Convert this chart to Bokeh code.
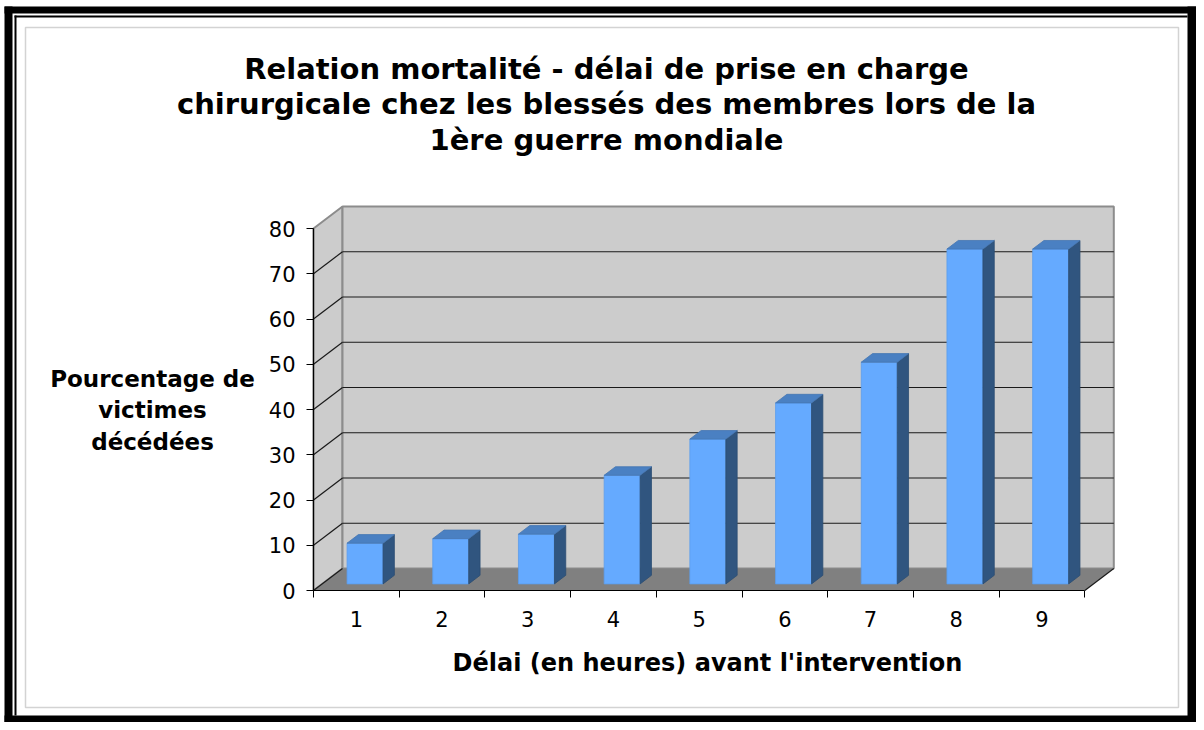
from bokeh.plotting import figure
from bokeh.models import Range1d, FixedTicker, Label, BoxAnnotation
from bokeh.embed import file_html
from bokeh.resources import INLINE

# ---------------- data ----------------
categories = ["1", "2", "3", "4", "5", "6", "7", "8", "9"]
mortality = [9, 10, 11, 24, 32, 40, 49, 74, 74]
y_ticks = [0, 10, 20, 30, 40, 50, 60, 70, 80]
title_text = ("Relation mortalité - délai de prise en charge\n"
              "chirurgicale chez les blessés des membres lors de la\n"
              "1ère guerre mondiale")
x_title = "Délai (en heures) avant l'intervention"
y_title = "Pourcentage de\nvictimes\ndécédées"

# ---------------- layout ----------------
W, H = 1196, 722
AX_X, AX_Y = 313, 590     # pixel position of the front axes origin
PX_X = 85.7               # pixels per category
PX_Y = 4.525              # pixels per percent
FONT = "DejaVu Sans"

n = len(categories)
x0, x1 = 0.5, n + 0.5
ymax = y_ticks[-1]

def dx(px):   # canvas pixel -> data x
    return x0 + (px - AX_X) / PX_X

def dy(py):   # canvas pixel -> data y
    return (AX_Y - py) / PX_Y

DX = 29 / PX_X   # 3D depth, x
DY = 22 / PX_Y   # 3D depth, y

p = figure(width=W, height=H, output_backend="svg", toolbar_location=None,
           x_range=Range1d(dx(0), dx(W)), y_range=Range1d(dy(H), dy(0)),
           min_border=0)
p.grid.visible = False
p.outline_line_color = None
p.background_fill_color = "white"
p.border_fill_color = "white"

# ---------------- walls ----------------
p.patch([x0, x0 + DX, x0 + DX, x0], [0, DY, ymax + DY, ymax],
        fill_color="#CCCCCC", line_color="#8C8C8C", line_width=2)
p.quad(left=[x0 + DX], right=[x1 + DX], bottom=[DY], top=[ymax + DY],
       fill_color="#CCCCCC", line_color="#8C8C8C", line_width=2)
gl = y_ticks[1:-1]
p.segment(x0=[x0 + DX] * len(gl), x1=[x1 + DX] * len(gl),
          y0=[v + DY for v in gl], y1=[v + DY for v in gl],
          line_color="#1A1A1A", line_width=1.2)
p.segment(x0=[x0] * len(gl), x1=[x0 + DX] * len(gl),
          y0=gl, y1=[v + DY for v in gl], line_color="#1A1A1A", line_width=1.2)
# floor
p.patch([x0, x1, x1 + DX, x0 + DX], [0, 0, DY, DY],
        fill_color="#808080", line_color=None)
p.segment(x0=[x1], y0=[0], x1=[x1 + DX], y1=[DY], line_color="#1A1A1A", line_width=1.2)
p.segment(x0=[x0], y0=[0], x1=[x0 + DX], y1=[DY], line_color="#1A1A1A", line_width=1.2)

# ---------------- bars ----------------
F0, F1, BW = 0.30, 0.39, 0.42
base = F0 * DY
sdx, sdy = F1 * DX, F1 * DY
lefts = [i + 1 + F0 * DX - BW / 2 for i in range(n)]
rights = [l + BW for l in lefts]
tops = [base + v for v in mortality]

p.quad(left=lefts, right=rights, bottom=[base] * n, top=tops,
       fill_color="#65AAFF", line_color="#5C9DEC", line_width=0.8)
p.patches([[r, r + sdx, r + sdx, r] for r in rights],
          [[base, base + sdy, t + sdy, t] for t in tops],
          fill_color="#30557F", line_color="#2B4C72", line_width=0.8)
p.patches([[l, r, r + sdx, l + sdx] for l, r in zip(lefts, rights)],
          [[t, t, t + sdy, t + sdy] for t in tops],
          fill_color="#4A80C2", line_color="#4576B2", line_width=0.8)

# ---------------- axes (fixed at the front plane) ----------------
ya = p.yaxis[0]
ya.fixed_location = x0
ya.ticker = FixedTicker(ticks=y_ticks)
ya.bounds = (0, ymax)
ya.axis_line_color = "black"
ya.axis_line_width = 1.2
ya.major_tick_out = 7
ya.major_tick_in = 0
ya.major_tick_line_color = "black"
ya.minor_tick_line_color = None
ya.major_label_text_font = FONT
ya.major_label_text_font_size = "21px"
ya.major_label_text_color = "black"
ya.major_label_standoff = 11

xa = p.xaxis[0]
xa.fixed_location = 0
xa.ticker = FixedTicker(ticks=list(range(1, n + 1)),
                        minor_ticks=[i + 0.5 for i in range(n + 1)])
xa.major_label_overrides = {i + 1: c for i, c in enumerate(categories)}
xa.bounds = (x0, x1)
xa.axis_line_color = "black"
xa.axis_line_width = 1.2
xa.major_tick_out = 0
xa.major_tick_in = 0
xa.minor_tick_out = 7
xa.minor_tick_in = 0
xa.minor_tick_line_color = "black"
xa.major_label_text_font = FONT
xa.major_label_text_font_size = "21px"
xa.major_label_text_color = "black"
xa.major_label_standoff = 13

# ---------------- texts ----------------
p.add_layout(Label(x=dx(606), y=dy(104), text=title_text, text_align="center",
                   text_baseline="middle", text_font=FONT, text_font_style="bold",
                   text_font_size="29px", text_color="black", text_line_height=1.05))
p.add_layout(Label(x=dx(152), y=dy(410), text=y_title, text_align="center",
                   text_baseline="middle", text_font=FONT, text_font_style="bold",
                   text_font_size="23px", text_color="black", text_line_height=1.2))
p.add_layout(Label(x=dx(707), y=dy(662), text=x_title, text_align="center",
                   text_baseline="middle", text_font=FONT, text_font_style="bold",
                   text_font_size="24px", text_color="black"))

# ---------------- outer frame ----------------
def band(l, r, t, b, color="black"):
    p.add_layout(BoxAnnotation(left=dx(l), right=dx(r), top=dy(t), bottom=dy(b),
                               fill_color=color, fill_alpha=1, line_color=None))

band(4, 12, 6, H)
band(4, W, 6, 13)
band(W - 9, W, 6, H)
band(4, W, H - 7, H)
band(14, 16, 15, H - 7)
band(14, W - 9, 15, 17)
p.add_layout(BoxAnnotation(left=dx(25), right=dx(W - 18), top=dy(27), bottom=dy(H - 15),
                           fill_alpha=0, line_color="#6E6E6E", line_width=1.5))

open("out.html", "w").write(file_html(p, INLINE))
